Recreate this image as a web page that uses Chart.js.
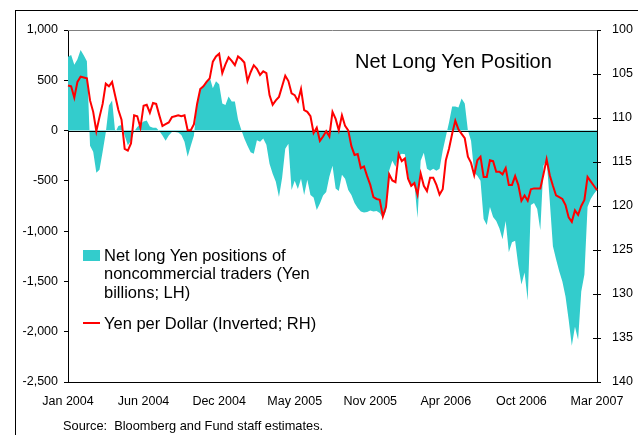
<!DOCTYPE html>
<html>
<head>
<meta charset="utf-8">
<script src="https://cdn.jsdelivr.net/npm/chart.js@4.4.1/dist/chart.umd.min.js"></script>
<style>
  body { margin: 0; width: 638px; height: 435px; overflow: hidden; background: #fff;
         font-family: "Liberation Sans", Arial, sans-serif; color: #000; }
  #wrap { position: relative; width: 638px; height: 435px; }
  #frame { position: absolute; left: 15px; top: 10px; width: 700px; height: 500px;
           border-top: 1px solid #000; border-left: 1px solid #000; }
  canvas { position: absolute; left: 0; top: 0; }
  .txt { position: absolute; white-space: nowrap; }
  #title { left: 355px; top: 49px; font-size: 20px; line-height: 24px; }
  #legendArea { left: 104px; top: 246px; font-size: 16.5px; line-height: 18.3px; }
  #legendLine { left: 104px; top: 314px; font-size: 16.5px; line-height: 18.3px; }
  #swatchArea { position: absolute; left: 83px; top: 250px; width: 17px; height: 11px; background: #33cccc; }
  #swatchLine { position: absolute; left: 83px; top: 322px; width: 17px; height: 2px; background: #ff0000; }
  #source { left: 63px; top: 418px; font-size: 12.8px; line-height: 15px; }
</style>
</head>
<body>
<div id="wrap">
  <div id="frame"></div>
  <canvas id="chart" width="638" height="435"></canvas>
  <div class="txt" id="title">Net Long Yen Position</div>
  <div id="swatchArea"></div>
  <div class="txt" id="legendArea">Net long Yen positions of<br>noncommercial traders (Yen<br>billions; LH)</div>
  <div id="swatchLine"></div>
  <div class="txt" id="legendLine">Yen per Dollar (Inverted; RH)</div>
  <div class="txt" id="source">Source:&nbsp; Bloomberg and Fund staff estimates.</div>
</div>
<script>
// weekly data, Jan 2004 - Mar 2007
const tickLabels = ["Jan 2004", "Jun 2004", "Dec 2004", "May 2005", "Nov 2005", "Apr 2006", "Oct 2006", "Mar 2007"];

// net long yen positions, yen billions (left axis)
const netLong = [
  734, 751, 655, 710, 800, 750, 690, -150, -210, -420,
  -390, -210, -20, 250, 300, -20, 45, 55, -50, -145,
  -100, -10, 35, 65, 90, 100, 40, 28, 28, -5,
  -50, -100, -50, -15, -15, -20, -45, -110, -260, -150,
  -50, 280, 400, 440, 480, 530, 420, 490, 460, 270,
  255, 340, 290, 290, 110, 10, -80, -150, -215, -230,
  -95, -110, -80, -140, -330, -430, -510, -660, -470, -180,
  -130, -590, -500, -580, -480, -640, -490, -640, -665, -790,
  -725, -645, -610, -460, -350, -575, -600, -440, -480, -590,
  -640, -720, -770, -805, -815, -810, -795, -805, -800, -820,
  -870, -800, -400, -300, -360, -250, -230, -235, -443, -560,
  -520, -870, -300, -220, -380, -400, -380, -400, -380, -200,
  -60, 80, 240, 240, 230, 320, 270, 0, -100, -420,
  -450, -500, -880, -940, -760, -860, -900, -970, -1080, -900,
  -1210, -1110, -1095, -1340, -1530, -1410, -1690, -740, -720, -780,
  -990, -350, -290, -700, -1150, -1280, -1400, -1500, -1650, -1880,
  -2140, -1950, -2080, -1600, -1430, -760, -680, -630, -590
];

// yen per dollar (right axis, inverted)
const yenPerDollar = [
  106.3, 106.4, 107.7, 105.9, 105.3, 105.4, 105.5, 108.0, 109.3, 111.5,
  109.9, 108.4, 106.1, 106.4, 105.9, 107.5, 109.1, 110.2, 113.5, 113.7,
  112.9, 109.7, 109.8, 111.1, 108.6, 108.5, 109.4, 108.3, 108.4, 109.7,
  110.9, 110.7, 110.5, 109.9, 109.8, 109.7, 109.8, 109.7, 111.4, 111.4,
  110.7, 108.4, 106.7, 106.4, 105.9, 105.5, 103.6, 103.0, 102.7, 104.9,
  103.9, 103.1, 103.5, 104.0, 103.0, 103.3, 103.7, 105.8, 104.8, 104.0,
  104.4, 105.1, 104.7, 104.9, 107.4, 108.5, 108.0, 107.6, 106.4, 105.2,
  105.8, 107.2, 107.4, 108.1, 106.7, 109.1, 109.3, 109.8, 111.7, 111.1,
  112.6, 112.1, 111.5, 112.1, 109.3, 110.1, 111.4, 109.7, 110.9, 111.4,
  113.2, 114.2, 114.1, 115.7, 115.5, 116.6, 117.6, 119.0, 119.2, 119.3,
  121.2, 120.1, 116.4, 117.1, 117.3, 114.1, 114.9, 114.6, 116.9, 117.7,
  117.4, 118.7, 116.3, 117.7, 118.3, 116.8, 116.8, 117.6, 118.7, 118.1,
  114.8, 113.5, 111.8, 110.3, 111.3, 111.8, 112.3, 114.4, 115.1, 116.5,
  114.8, 114.4, 116.7, 116.7, 114.8, 114.9, 116.1, 116.1, 116.4, 115.7,
  117.6, 117.6, 116.6, 117.6, 119.4, 118.8, 119.4, 118.1, 118.0, 118.0,
  118.0, 116.4, 114.7, 116.5, 117.7, 118.8, 119.0, 119.2, 119.9, 121.3,
  121.8, 120.5, 121.0, 120.0, 119.3, 116.7, 117.2, 117.7, 118.2
];

// one label every 24 weeks
const weeks = netLong.map((_, i) => (i % 24 === 0 ? tickLabels[i / 24] : ""));

const tickFont = { family: "'Liberation Sans', Arial, sans-serif", size: 12.5 };

// zero line over the fill, inner half of right-axis ticks, grey top border
const extras = {
  id: "extras",
  afterDatasetDraw(chart, args) {
    if (args.index !== 1) return;
    const { ctx, chartArea } = chart;
    const y = Math.round(chart.scales.y.getPixelForValue(0)) + 0.5;
    ctx.save();
    ctx.strokeStyle = "#000";
    ctx.lineWidth = 1;
    ctx.beginPath();
    ctx.moveTo(chartArea.left, y);
    ctx.lineTo(chartArea.right, y);
    ctx.stroke();
    ctx.restore();
  },
  afterDraw(chart) {
    const { ctx, chartArea } = chart;
    const s = chart.scales.y2;
    ctx.save();
    ctx.strokeStyle = "#000";
    ctx.lineWidth = 1;
    s.ticks.forEach(t => {
      const y = Math.round(s.getPixelForValue(t.value)) + 0.5;
      ctx.beginPath();
      ctx.moveTo(chartArea.right - 4, y);
      ctx.lineTo(chartArea.right, y);
      ctx.stroke();
    });
    ctx.strokeStyle = "#808080";
    ctx.beginPath();
    ctx.moveTo(chartArea.left, chartArea.top + 0.5);
    ctx.lineTo(chartArea.right, chartArea.top + 0.5);
    ctx.stroke();
    ctx.restore();
  }
};

new Chart(document.getElementById("chart"), {
  type: "line",
  data: {
    labels: weeks,
    datasets: [
      {
        label: "Yen per Dollar (Inverted; RH)",
        data: yenPerDollar,
        yAxisID: "y2",
        borderColor: "#ff0000",
        borderWidth: 2,
        pointRadius: 0,
        fill: false,
        tension: 0
      },
      {
        label: "Net long Yen positions of noncommercial traders (Yen billions; LH)",
        data: netLong,
        yAxisID: "y",
        backgroundColor: "#33cccc",
        borderWidth: 0,
        borderColor: "rgba(0,0,0,0)",
        pointRadius: 0,
        fill: "origin",
        tension: 0
      }
    ]
  },
  options: {
    responsive: false,
    devicePixelRatio: 1,
    animation: false,
    layout: { padding: { top: 30, left: 0, right: 0, bottom: 0 } },
    plugins: { legend: { display: false }, tooltip: { enabled: false } },
    scales: {
      x: {
        afterFit: s => { s.height = 53; },
        grid: { display: true, drawOnChartArea: false, drawTicks: false },
        border: { color: "#000", width: 1 },
        ticks: { autoSkip: false, maxRotation: 0, minRotation: 0, padding: 12, color: "#000", font: tickFont }
      },
      y: {
        position: "left",
        min: -2500,
        max: 1000,
        afterFit: s => { s.width = 68; },
        grid: { drawOnChartArea: false, tickLength: 4, tickColor: "#000" },
        border: { color: "#000", width: 1 },
        ticks: {
          stepSize: 500, padding: 6, color: "#000", font: tickFont,
          callback: v => v.toLocaleString("en-US")
        }
      },
      y2: {
        position: "right",
        reverse: true,
        min: 100,
        max: 140,
        afterFit: s => { s.width = 41; },
        grid: { drawOnChartArea: false, tickLength: 4, tickColor: "#000" },
        border: { color: "#000", width: 1 },
        ticks: { stepSize: 5, padding: 11, color: "#000", font: tickFont }
      }
    }
  },
  plugins: [extras]
});
</script>
</body>
</html>
